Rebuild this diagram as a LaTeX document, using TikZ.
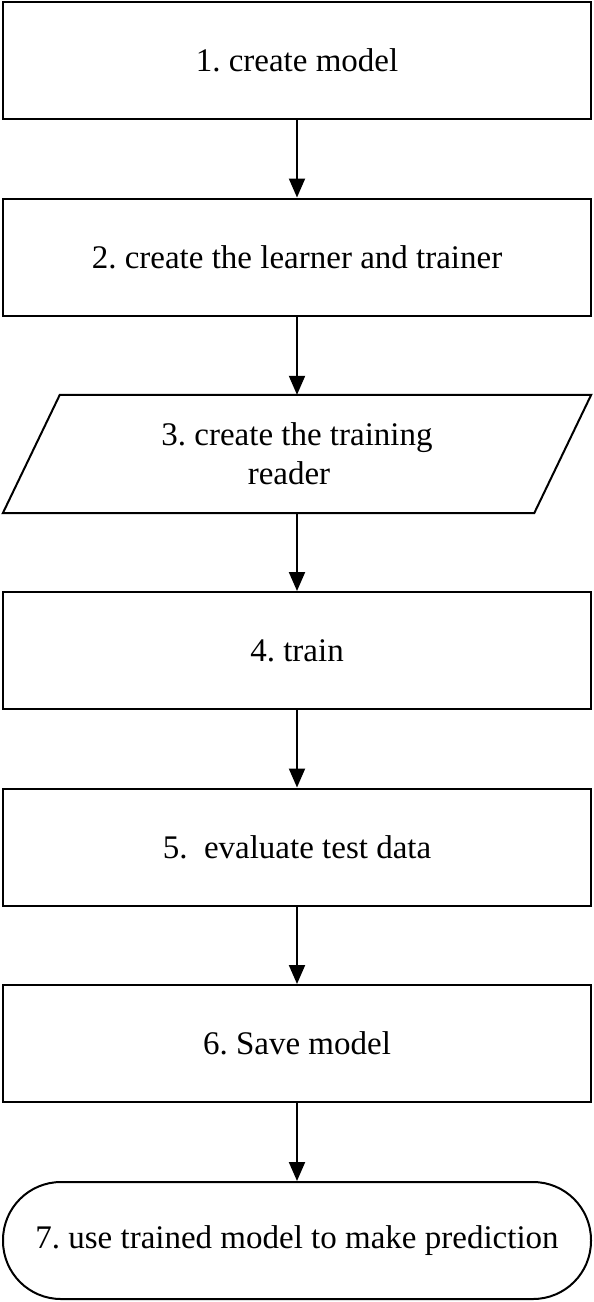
\documentclass[tikz,border=0pt]{standalone}
\usepackage{fontspec}
\setmainfont{Liberation Serif}
\usetikzlibrary{arrows.meta,calc}
\begin{document}
\begin{tikzpicture}[x=1pt,y=-1pt,
  every node/.style={font=\fontsize{33}{39}\selectfont\frenchspacing, inner sep=0pt},
  stepbox/.style={draw, line width=2pt, minimum width=588pt, minimum height=117pt},
  termbox/.style={draw, line width=2pt, minimum width=588pt, minimum height=117pt, rounded corners=58pt},
  iobox/.style={minimum width=531pt, minimum height=118pt, align=center},
  conn/.style={line width=2pt, -{Triangle[length=19pt,width=16pt]}}]
\useasboundingbox (0,0) rectangle (594,1302);
\node[stepbox] (s1) at (297,60) {1. create model};
\node[stepbox] (s2) at (297,257) {2. create the learner and trainer};
\node[iobox] (s3) at (297,454) {3. create the training\\reader\hspace*{16pt}};
\draw[line width=2pt] ($(s3.south west)+(-28.5,0)$) -- ($(s3.north west)+(28.5,0)$) -- ($(s3.north east)+(28.5,0)$) -- ($(s3.south east)+(-28.5,0)$) -- cycle;
\node[stepbox] (s4) at (297,650.5) {4. train};
\node[stepbox] (s5) at (297,847) {5.\ \ evaluate test data};
\node[stepbox] (s6) at (297,1043.5) {6. Save model};
\node[termbox] (s7) at (297,1240.5) {7. use trained model to make prediction};
\draw[conn] (s1) -- (s2);
\draw[conn] (s2) -- (s3);
\draw[conn] (s3) -- (s4);
\draw[conn] (s4) -- (s5);
\draw[conn] (s5) -- (s6);
\draw[conn] (s6) -- (s7);
\end{tikzpicture}
\end{document}
